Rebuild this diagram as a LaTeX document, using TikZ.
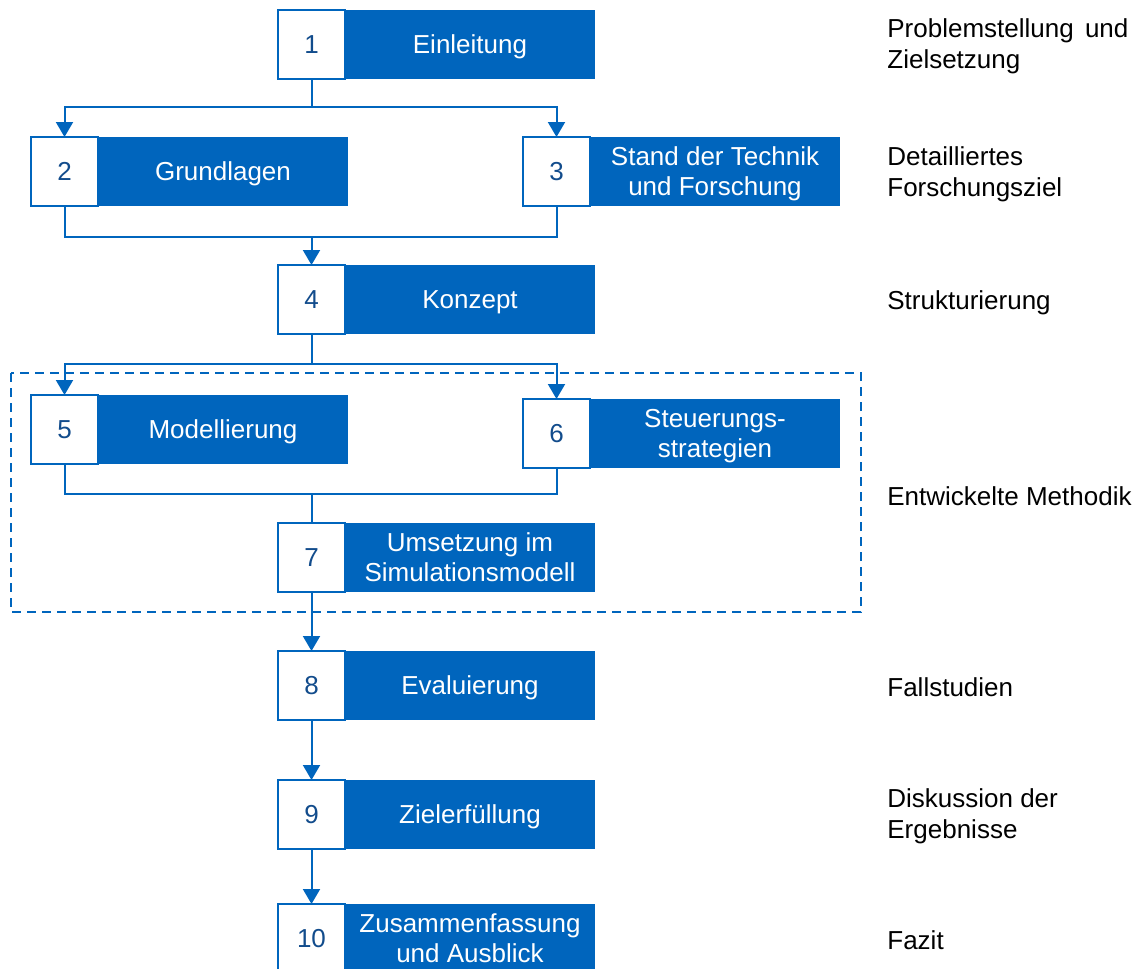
\documentclass[tikz,border=0pt]{standalone}
\usepackage{fontspec}
\setmainfont{Liberation Sans}
\usetikzlibrary{arrows.meta}
\definecolor{tblue}{HTML}{0065BD}
\definecolor{tnum}{HTML}{124C8C}
\tikzset{
  txt/.style={font=\fontsize{13}{15}\selectfont},
  numbox/.style={txt, draw=tblue, line width=0.8pt, fill=white, text=tnum,
    minimum width=33.5pt, minimum height=34.5pt, inner sep=0pt, outer sep=0pt,
    anchor=north west},
  titlebox/.style={txt, fill=tblue, text=white, minimum width=125pt,
    minimum height=34.5pt, inner sep=0pt, outer sep=0pt, anchor=west,
    align=center, text depth=0pt},
  sidelabel/.style={font=\fontsize{13}{15.5}\selectfont, anchor=west,
    align=left, inner sep=0pt, text depth=0pt},
  conn/.style={draw=tblue, line width=1pt},
  arr/.style={conn, -{Triangle[width=8.5pt,length=7.5pt]}},
  groupframe/.style={draw=tblue, line width=1pt, dash pattern=on 4.5pt off 3pt},
}
\begin{document}
\begin{tikzpicture}[x=0.5pt, y=-0.5pt]
  \useasboundingbox (0,0) rectangle (1142,969);

  % chapter boxes: number square plus blue title bar
  \node[numbox] (n1) at (278,10) {1};
  \node[titlebox] (t1) at (n1.east) {Einleitung};

  \node[numbox] (n2) at (31,137) {2};
  \node[titlebox] (t2) at (n2.east) {Grundlagen};

  \node[numbox] (n3) at (523,137) {3};
  \node[titlebox] (t3) at (n3.east) {Stand der Technik\\und Forschung};

  \node[numbox] (n4) at (278,265) {4};
  \node[titlebox] (t4) at (n4.east) {Konzept};

  \node[numbox] (n5) at (31,395) {5};
  \node[titlebox] (t5) at (n5.east) {Modellierung};

  \node[numbox] (n6) at (523,399) {6};
  \node[titlebox] (t6) at (n6.east) {Steuerungs-\\strategien};

  \node[numbox] (n7) at (278,523) {7};
  \node[titlebox] (t7) at (n7.east) {Umsetzung im\\Simulationsmodell};

  \node[numbox] (n8) at (278,651) {8};
  \node[titlebox] (t8) at (n8.east) {Evaluierung};

  \node[numbox] (n9) at (278,780) {9};
  \node[titlebox] (t9) at (n9.east) {Zielerfüllung};

  \node[numbox] (n10) at (278,904) {10};
  \node[titlebox] (t10) at (n10.east) {Zusammenfassung\\und Ausblick};

  % frame around the method chapters
  \draw[groupframe] (11,373) rectangle (861,612);

  % connectors
  \coordinate (j1) at (311.5,107);
  \draw[conn] (n1.south) -- (j1);
  \draw[arr] (j1) -| (n2.north);
  \draw[arr] (j1) -| (n3.north);

  \coordinate (j2) at (311.5,237);
  \draw[conn] (n2.south) |- (j2);
  \draw[conn] (n3.south) |- (j2);
  \draw[arr] (j2) -- (n4.north);

  \coordinate (j3) at (311.5,364);
  \draw[conn] (n4.south) -- (j3);
  \draw[arr] (j3) -| (n5.north);
  \draw[arr] (j3) -| (n6.north);

  \coordinate (j4) at (311.5,494);
  \draw[conn] (n5.south) |- (j4);
  \draw[conn] (n6.south) |- (j4);
  \draw[conn] (j4) -- (n7.north);

  \draw[arr] (n7.south) -- (n8.north);
  \draw[arr] (n8.south) -- (n9.north);
  \draw[arr] (n9.south) -- (n10.north);

  % side descriptions
  \node[sidelabel] (s1) at (887,44) {Problemstellung\hspace{2pt} und\\Zielsetzung};
  \node[sidelabel] (s2) at (887,172) {Detailliertes\\Forschungsziel};
  \node[sidelabel] (s3) at (887,300) {Strukturierung};
  \node[sidelabel] (s4) at (887,496) {Entwickelte Methodik};
  \node[sidelabel] (s5) at (887,687) {Fallstudien};
  \node[sidelabel] (s6) at (887,814) {Diskussion der\\Ergebnisse};
  \node[sidelabel] (s7) at (887,940) {Fazit};
\end{tikzpicture}
\end{document}
